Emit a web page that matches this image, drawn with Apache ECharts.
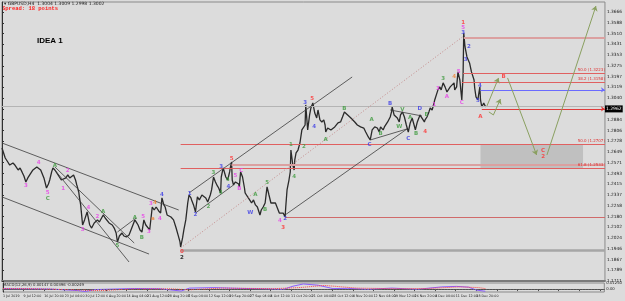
<!DOCTYPE html>
<html>
<head>
<meta charset="utf-8">
<script src="https://cdn.jsdelivr.net/npm/echarts@6/dist/echarts.min.js"></script>
<style>
  html, body { margin: 0; padding: 0; background: #dcdcdc; }
  #chart { width: 625px; height: 301px; }
</style>
</head>
<body>
<div id="chart"></div>
<script>
// bar index (H4 bars from 1 Jul 2019), 32 bars between date labels
const dateLabels = ['1 Jul 2019', '9 Jul 12:00', '16 Jul 20:00', '23 Jul 04:00', '30 Jul 12:00',
  '6 Aug 20:00', '14 Aug 04:00', '21 Aug 12:00', '28 Aug 20:00', '5 Sep 04:00', '12 Sep 12:00',
  '19 Sep 20:00', '27 Sep 04:00', '4 Oct 12:00', '11 Oct 20:00', '21 Oct 04:00', '28 Oct 12:00',
  '4 Nov 20:00', '12 Nov 04:00', '19 Nov 12:00', '26 Nov 20:00', '4 Dec 04:00', '11 Dec 12:00',
  '18 Dec 20:00'];

// GBPUSD closes [bar, price]
const pricePath = [
  [0,1.2678],[2,1.2649],[5,1.2605],[9,1.2576],[12,1.2554],[17,1.2569],[20,1.2554],[25,1.2518],[28,1.2533],
  [31,1.2504],[34,1.2474],[37,1.2431],[40,1.2460],[43,1.2482],[48,1.2518],[51,1.2504],[54,1.2540],[57,1.2547],
  [60,1.2518],[65,1.2460],[69,1.2387],[72,1.2416],[74,1.2445],[77,1.2504],[79,1.2533],[82,1.2518],[85,1.2504],
  [89,1.2467],[92,1.2445],[95,1.2431],[99,1.2460],[102,1.2482],[105,1.2460],[108,1.2467],[111,1.2482],[114,1.2445],
  [116,1.2409],[119,1.2358],[120,1.2322],[122,1.2264],[123,1.2213],[125,1.2118],[128,1.2155],[129,1.2169],
  [132,1.2213],[134,1.2227],[136,1.2118],[139,1.2096],[140,1.2104],[143,1.2133],[146,1.2140],[148,1.2155],
  [151,1.2140],[154,1.2133],[157,1.2191],[160,1.2169],[162,1.2155],[166,1.2133],[171,1.2118],[174,1.2096],
  [177,1.2060],[179,1.1995],[182,1.2038],[183,1.2046],[186,1.2060],[189,1.2038],[193,1.2031],[197,1.2046],
  [200,1.2082],[202,1.2096],[206,1.2155],[209,1.2133],[211,1.2118],[214,1.2082],[217,1.2067],[220,1.2155],
  [223,1.2118],[225,1.2104],[229,1.2082],[233,1.2249],[236,1.2227],[239,1.2249],[243,1.2220],[246,1.2205],
  [248,1.2315],[251,1.2264],[253,1.2249],[256,1.2191],[259,1.2184],[262,1.2176],[266,1.2155],[270,1.2096],
  [273,1.2046],[276,1.1995],[277,1.1958],
  [280,1.2024],[282,1.2082],[285,1.2155],[288,1.2278],[290,1.2336],[293,1.2315],[294,1.2300],[297,1.2264],
  [300,1.2213],[303,1.2322],[306,1.2300],[310,1.2336],[313,1.2322],[316,1.2315],[319,1.2285],[320,1.2278],
  [323,1.2336],[325,1.2373],[328,1.2467],[331,1.2431],[334,1.2402],[336,1.2387],[339,1.2351],[340,1.2467],
  [343,1.2533],[347,1.2467],[350,1.2445],[353,1.2504],[354,1.2533],[356,1.2576],[357,1.2445],[359,1.2409],
  [362,1.2431],[363,1.2445],[367,1.2416],[368,1.2395],[370,1.2504],[373,1.2467],[376,1.2387],[377,1.2351],
  [380,1.2329],[382,1.2315],[385,1.2293],[387,1.2278],[390,1.2300],[393,1.2264],[396,1.2249],[397,1.2242],
  [400,1.2191],[402,1.2227],[405,1.2249],[408,1.2278],[411,1.2395],[414,1.2336],[417,1.2278],[420,1.2285],
  [424,1.2278],[427,1.2242],[430,1.2205],[433,1.2191],[436,1.2205],[439,1.2176],[440,1.2249],[442,1.2373],
  [445,1.2445],[447,1.2504],[448,1.2663],[451,1.2554],[453,1.2518],[454,1.2591],[456,1.2642],[459,1.2663],
  [462,1.2714],[465,1.2809],[470,1.2845],[471,1.2991],[474,1.2809],[477,1.2918],[479,1.2969],[482,1.3005],
  [485,1.2932],[488,1.2896],[490,1.2954],[493,1.2882],[496,1.2867],[499,1.2882],[501,1.2845],[502,1.2794],
  [505,1.2823],[510,1.2809],[513,1.2823],[516,1.2831],[521,1.2860],[525,1.2867],[528,1.2903],[531,1.2940],
  [536,1.2918],[541,1.2896],[544,1.2882],[547,1.2867],[551,1.2845],[556,1.2831],[561,1.2823],[564,1.2794],
  [568,1.2758],[571,1.2736],[574,1.2809],[578,1.2831],[579,1.2845],[582,1.2823],[585,1.2794],[587,1.2831],
  [591,1.2809],[593,1.2831],[598,1.2867],[602,1.2903],[604,1.2940],[605,1.2976],[608,1.2918],[613,1.2896],
  [616,1.2867],[618,1.2918],[621,1.2940],[624,1.2903],[627,1.2845],[630,1.2794],[633,1.2860],[636,1.2896],
  [639,1.2845],[641,1.2809],[644,1.2867],[647,1.2903],[648,1.2918],[651,1.2896],[655,1.2867],[656,1.2882],
  [659,1.2903],[662,1.2940],[664,1.2969],[667,1.2954],[670,1.3005],[671,1.3027],[676,1.3100],[679,1.3122],
  [681,1.3100],[684,1.3151],[687,1.3122],[690,1.3085],[695,1.3122],[698,1.3136],[701,1.3151],[702,1.3100],
  [705,1.3122],[707,1.3231],[710,1.3172],[711,1.3122],[713,1.3027],[715,1.3209],[716,1.3514],[718,1.3412],
  [721,1.3340],[724,1.3354],[725,1.3296],[728,1.3231],[732,1.3172],[733,1.3114],[735,1.3049],[738,1.3027],
  [739,1.3063],[741,1.3122],[742,1.3027],[744,1.2976],[747,1.3005],[750,1.2976]
];

// projected path (segments end in an arrow)
const forecastPaths = [
  [[752,1.2983],[770,1.3187]],
  [[755,1.2940],[762,1.2918],[773,1.3034]],
  [[784,1.3187],[829,1.2627]],
  [[845,1.2627],[921,1.3710]]
];

// trend lines [bar1, price1, bar2, price2]
const trendLines = [
  [0,1.2714,274,1.2227],
  [0,1.2322,228,1.1907],
  [82,1.2540,205,1.1987],
  [82,1.2518,197,1.1849],
  [179,1.2067,208,1.2169],
  [290,1.2351,543,1.3194],
  [300,1.2205,359,1.2409],
  [439,1.2191,628,1.2816],
  [602,1.2954,651,1.2911],
  [571,1.2736,628,1.2816]
];
const dottedLines = [[277,1.1951,716,1.3492]];

// horizontal levels [price, startBar]
const fiboLevels = [[1.3223,715,'50.0'],[1.3158,713,'38.2'],[1.2707,277,'50.0'],[1.2533,277,'61.8']];
const pinkLevels = [[1.3481,716],[1.2556,356]];
const redLevels = [[1.2176,439]];
const blueLevels = [[1.3100,742]];
const bidLevel = [1.2980,0];
const lastPrice = [1.2962,744];
const supportLevel = [1.1936,277];
const zoneBox = [742,901,1.2707,1.2533];

// wave count labels [bar, price, text]
const pinkWaves = [[37,1.2402,'3'],[57,1.2569,'4'],[71,1.2351,'5'],[102,1.2511,'2'],[95,1.2380,'1'],
  [125,1.2082,'3'],[134,1.2242,'4'],[148,1.2176,'2'],[219,1.2176,'5'],[228,1.2067,'3'],[231,1.2271,'3'],
  [245,1.2162,'4'],[362,1.2474,'5'],[368,1.2380,'B'],[371,1.2511,'C'],[431,1.2147,'4'],[670,1.2991,'1'],
  [676,1.3107,'3'],[690,1.3049,'A'],[708,1.3231,'5'],[713,1.3005,'C'],[715,1.3550,'5']];
const greenWaves = [[71,1.2307,'C'],[82,1.2547,'A'],[157,1.2213,'A'],[179,1.1966,'5'],[206,1.2169,'A'],
  [217,1.2024,'B'],[328,1.2496,'3'],[339,1.2351,'4'],[320,1.2249,'2'],[350,1.2445,'4'],[393,1.2336,'A'],
  [411,1.2424,'5'],[408,1.2227,'B'],[448,1.2700,'1'],[468,1.2685,'2'],[453,1.2467,'4'],[502,1.2736,'A'],
  [531,1.2962,'B'],[573,1.2882,'A'],[587,1.2780,'B'],[616,1.2831,'W'],[621,1.2954,'V'],[633,1.2896,'A'],
  [642,1.2780,'B'],[658,1.2918,'E'],[684,1.3180,'3']];
const blueWaves = [[248,1.2336,'4'],[291,1.2344,'1'],[300,1.2191,'2'],[340,1.2540,'3'],[351,1.2395,'4'],
  [385,1.2205,'W'],[439,1.2162,'2'],[470,1.3005,'3'],[484,1.2831,'4'],[570,1.2700,'C'],[602,1.2998,'B'],
  [630,1.2743,'C'],[648,1.2962,'D'],[715,1.3514,'3'],[724,1.3412,'2'],[719,1.3318,'3'],[741,1.3129,'4'],
  [738,1.3020,'5']];
const redWaves = [[279,1.1922,'0'],[356,1.2598,'5'],[436,1.2096,'3'],[481,1.3034,'5'],[656,1.2794,'4'],
  [715,1.3587,'1'],[742,1.2903,'A'],[778,1.3194,'B'],[839,1.2656,'C'],[839,1.2613,'2']];
const orangeWaves = [[237,1.2278,'4'],[234,1.2162,'a'],[701,1.3194,'4']];
const blackWaves = [[279,1.1878,'2']];

// MACD(12,26,9) pane
const macdMain = [[0,0.0009],[28,0.0005],[74,0.0000],[116,-0.0030],[128,-0.0050],[143,-0.0010],[205,0.0012],
  [243,0.0008],[277,-0.0040],[290,0.0020],[328,0.0030],[367,0.0015],[405,0.0005],[436,-0.0005],[451,0.0060],
  [467,0.0105],[490,0.0080],[513,0.0010],[536,0.0015],[567,-0.0005],[605,0.0020],[644,-0.0005],[682,0.0045],
  [705,0.0055],[724,0.0040],[736,-0.0020],[750,-0.0045]];
const macdSignal = [[0,0.0010],[40,0.0008],[100,-0.0010],[150,-0.0030],[200,0.0000],[260,0.0005],
  [290,-0.0015],[340,0.0020],[420,0.0008],[460,0.0030],[500,0.0075],[550,0.0020],[610,0.0008],[660,0.0012],
  [710,0.0045],[740,0.0030],[750,0.0010]];

const X_MAX = 935;
const FONT = 'DejaVu Sans';

function seg(a, b, extra) {
  return [Object.assign({ coord: a }, extra && extra.start), Object.assign({ coord: b }, extra && extra.end)];
}

function hLine(price, start, color, width, type, label, endSymbol) {
  return [
    { coord: [start, price], lineStyle: { color, width, type }, label: label || { show: false } },
    { coord: [X_MAX, price], symbol: endSymbol || 'none' }
  ];
}

function waveSeries(rows, color) {
  return {
    type: 'scatter', data: rows, symbolSize: 1, itemStyle: { color: 'rgba(0,0,0,0)' }, silent: true, z: 6,
    label: { show: true, position: 'inside', formatter: p => p.data[2], color, fontSize: 5.5,
      fontFamily: FONT, fontWeight: 'bold' },
    labelLayout: { hideOverlap: false }
  };
}

const fiboLabel = (f) => ({
  show: true, position: 'insideEndTop', distance: [0, 1], formatter: `${f[2]} (${f[0].toFixed(4)})`,
  color: '#e03030', fontSize: 4, fontFamily: FONT
});

const levelLines = [];
fiboLevels.forEach(f => levelLines.push(hLine(f[0], f[1], '#e06060', 1, 'solid', fiboLabel(f))));
pinkLevels.forEach(l => levelLines.push(hLine(l[0], l[1], '#dba0a0', 2, 'solid')));
redLevels.forEach(l => levelLines.push(hLine(l[0], l[1], '#d06a6a', 1, 'solid')));
blueLevels.forEach(l => levelLines.push(hLine(l[0], l[1], '#6a6aff', 1, 'solid', null, 'arrow')));
levelLines.push(hLine(bidLevel[0], bidLevel[1], '#b4b4b4', 1, 'solid'));
levelLines.push(hLine(supportLevel[0], supportLevel[1], '#a6a6a6', 2.5, 'solid'));
levelLines.push(hLine(lastPrice[0], lastPrice[1], '#e03a3a', 1, 'solid', {
  show: true, position: 'end', distance: 0, formatter: lastPrice[0].toFixed(4), color: '#fff',
  backgroundColor: '#000', fontSize: 4.5, fontFamily: FONT, padding: [1, 1]
}, 'arrow'));

const trendData = trendLines.map(t => seg([t[0], t[1]], [t[2], t[3]]));
const dottedData = dottedLines.map(t => seg([t[0], t[1]], [t[2], t[3]]));

const forecastData = [];
forecastPaths.forEach(path => {
  for (let i = 0; i < path.length - 1; i++) {
    const last = i === path.length - 2;
    forecastData.push(seg(path[i], path[i + 1], { end: { symbol: last ? 'arrow' : 'none' } }));
  }
});

const chart = echarts.init(document.getElementById('chart'), null, { renderer: 'canvas' });

chart.setOption({
  backgroundColor: '#dcdcdc',
  animation: false,
  grid: [
    { left: 2, right: 15, top: 2, height: 279, show: true, borderColor: '#8a8a8a', borderWidth: 1 },
    { left: 2, right: 15, top: 283, height: 9, show: true, borderColor: '#8a8a8a', borderWidth: 1 }
  ],
  xAxis: [
    { type: 'value', gridIndex: 0, min: 0, max: X_MAX, interval: 32,
      axisLabel: { show: false }, axisTick: { show: false }, splitLine: { show: false },
      axisLine: { show: true, lineStyle: { color: '#7a7a7a', width: 2 } } },
    { type: 'value', gridIndex: 1, min: 0, max: X_MAX, interval: 32, splitLine: { show: false },
      axisLine: { show: true, lineStyle: { color: '#505050', width: 1 } },
      axisTick: { show: true, length: 2, lineStyle: { color: '#505050' } },
      axisLabel: { show: true, align: 'left', margin: 3, fontSize: 3.3, fontFamily: FONT, color: '#202020',
        showMinLabel: true, showMaxLabel: false, hideOverlap: false,
        formatter: v => dateLabels[Math.round(v / 32)] || '' } }
  ],
  yAxis: [
    { type: 'value', gridIndex: 0, position: 'right', min: 1.1711, max: 1.3739, interval: 0.00782,
      splitLine: { show: false },
      axisLine: { show: true, lineStyle: { color: '#303030' } },
      axisTick: { show: true, length: 2, lineStyle: { color: '#303030' } },
      axisLabel: { fontSize: 4.3, fontFamily: FONT, color: '#202020', margin: 2, showMaxLabel: false,
        formatter: v => v.toFixed(4) } },
    { type: 'value', gridIndex: 1, position: 'right', min: -0.006, max: 0.0125, splitLine: { show: false },
      axisLine: { show: true, lineStyle: { color: '#303030' } },
      axisTick: { show: false },
      axisLabel: { fontSize: 3.8, fontFamily: FONT, color: '#202020', margin: 2,
        customValues: [0.0125, 0, -0.006],
        formatter: v => v === 0 ? '0.00' : v.toFixed(5) } }
  ],
  graphic: [
    { type: 'text', left: 4, top: 1, style: { text: '\u25BE GBPUSD,H4  1.3004 1.3009 1.2998 1.3002',
      fontSize: 4.5, fontFamily: FONT, fill: '#202020' } },
    { type: 'text', left: 2, top: 6, style: { text: 'Spread: 18 points', fontSize: 5.5,
      fontFamily: 'Liberation Mono', fontWeight: 'bold', fill: '#ff2020' } },
    { type: 'text', left: 37, top: 37, style: { text: 'IDEA 1', fontSize: 8,
      fontFamily: 'Liberation Sans', fontWeight: 'bold', fill: '#000' } },
    { type: 'text', left: 3, top: 283, style: { text: 'MACD(12,26,9) 0.00147 0.00396 -0.00249',
      fontSize: 3.8, fontFamily: FONT, fill: '#202020' } }
  ],
  series: [
    {
      name: 'levels', type: 'line', data: [], silent: true, z: 2,
      markArea: { silent: true, itemStyle: { color: 'rgba(140,140,140,0.35)' },
        data: [[{ coord: [zoneBox[0], zoneBox[2]] }, { coord: [zoneBox[1], zoneBox[3]] }]] },
      markLine: { silent: true, symbol: ['none', 'none'], symbolSize: 4, animation: false,
        data: levelLines }
    },
    {
      name: 'trend', type: 'line', data: [], silent: true, z: 3,
      markLine: { silent: true, symbol: ['none', 'none'], animation: false, label: { show: false },
        lineStyle: { color: '#3c3c3c', width: 0.8, type: 'solid' }, data: trendData }
    },
    {
      name: 'dotted', type: 'line', data: [], silent: true, z: 3,
      markLine: { silent: true, symbol: ['none', 'none'], animation: false, label: { show: false },
        lineStyle: { color: '#c48a8a', width: 1, type: [1, 2] }, data: dottedData }
    },
    {
      name: 'GBPUSD', type: 'line', data: pricePath, showSymbol: false, z: 4,
      lineStyle: { color: '#2a2a2a', width: 1.3 }
    },
    {
      name: 'forecast', type: 'line', data: [], silent: true, z: 4,
      markLine: { silent: true, symbol: ['none', 'none'], symbolSize: 5, animation: false,
        label: { show: false }, itemStyle: { color: '#2f6a1f' },
        lineStyle: { color: '#8aa060', width: 1, type: 'solid' }, data: forecastData }
    },
    waveSeries(pinkWaves, '#e83ee8'),
    waveSeries(greenWaves, '#3c9a3c'),
    waveSeries(blueWaves, '#3a3ae6'),
    waveSeries(redWaves, '#ff3030'),
    waveSeries(orangeWaves, '#f08030'),
    waveSeries(blackWaves, '#000000'),
    {
      name: 'MACD', type: 'line', xAxisIndex: 1, yAxisIndex: 1, data: macdMain, showSymbol: false,
      lineStyle: { color: '#8a5cff', width: 1 },
      markLine: { silent: true, symbol: ['none', 'none'], label: { show: false },
        lineStyle: { color: '#606060', width: 1, type: [1, 2] },
        data: [[{ coord: [0, 0] }, { coord: [X_MAX, 0] }]] }
    },
    {
      name: 'Signal', type: 'line', xAxisIndex: 1, yAxisIndex: 1, data: macdSignal, showSymbol: false,
      lineStyle: { color: '#ff4040', width: 1, type: [1, 1] }
    }
  ]
});

window.addEventListener('resize', () => chart.resize());
</script>
</body>
</html>
